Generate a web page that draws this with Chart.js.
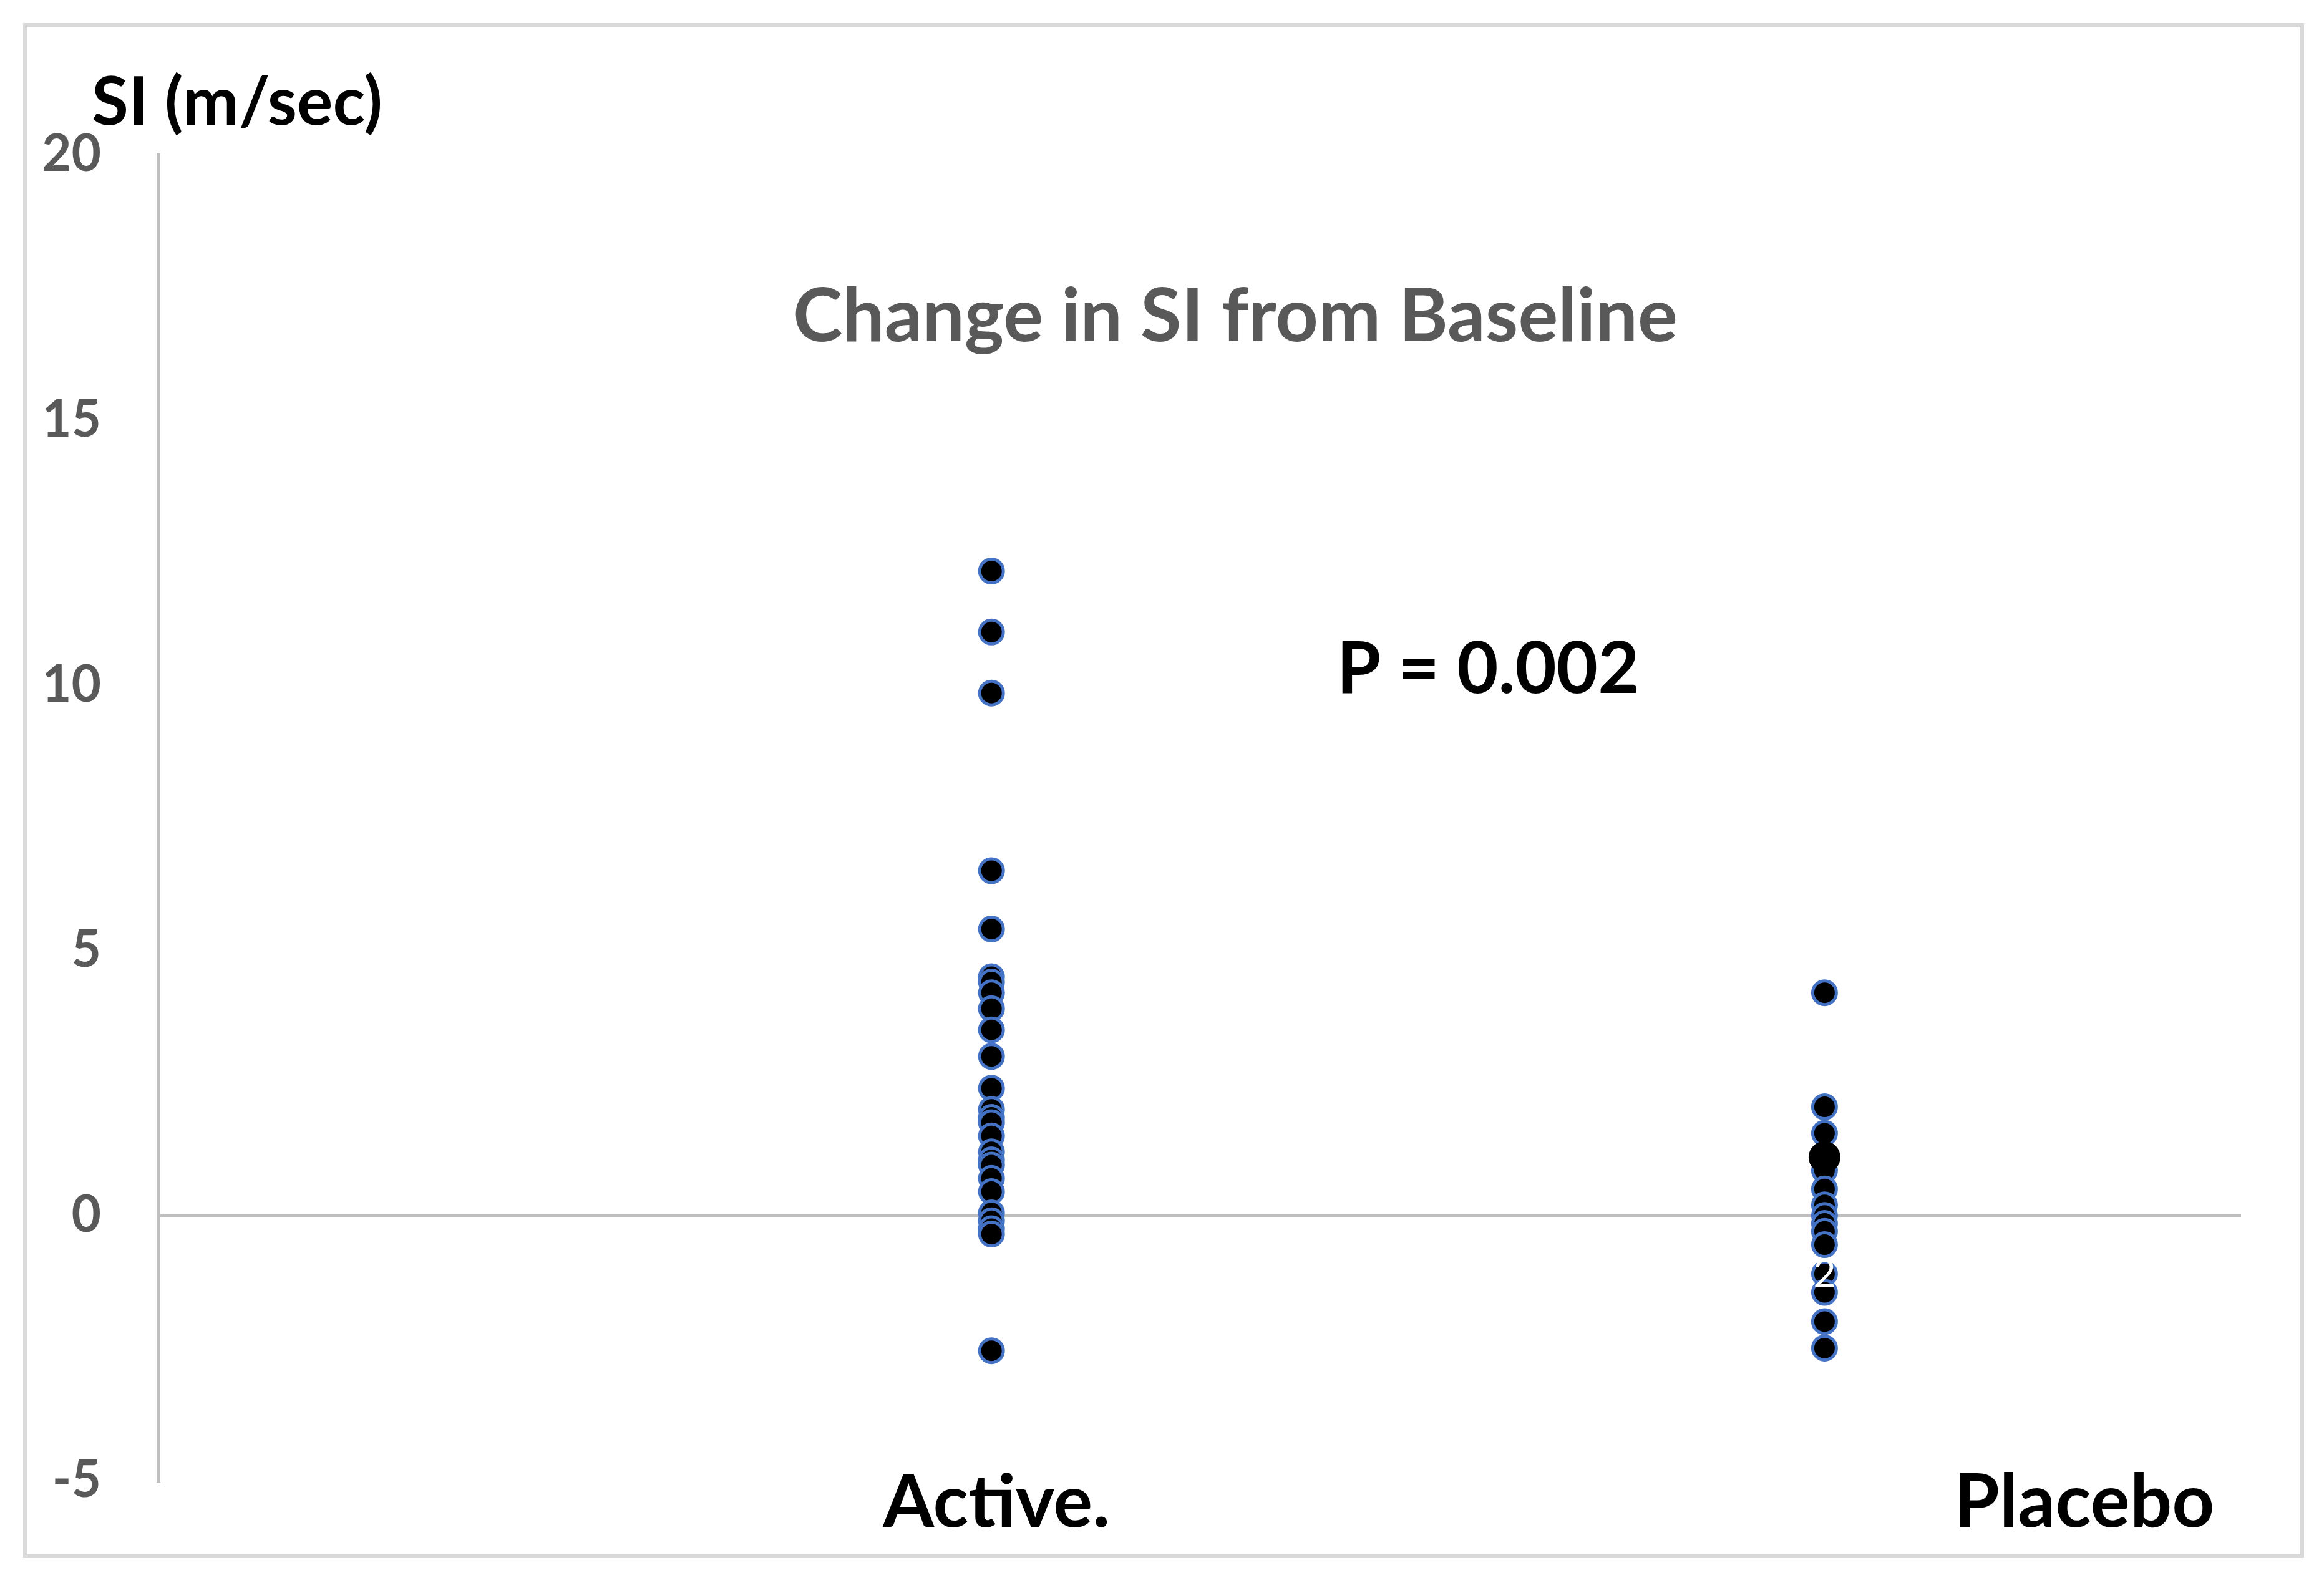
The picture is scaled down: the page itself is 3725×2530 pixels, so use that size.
<!DOCTYPE html>
<html>
<head>
<meta charset="utf-8">
<script src="https://cdn.jsdelivr.net/npm/chart.js@4/dist/chart.umd.min.js"></script>
<style>
  html, body { margin: 0; padding: 0; background: #ffffff; }
  canvas { display: block; }
</style>
</head>
<body>
<canvas id="c" width="3725" height="2530"></canvas>
<script>
// ---- data ----
const categories = ["Active.", "Placebo"];
const categoryX = [1, 2];
const activeValues = [12.15, 11.0, 9.85, 6.5, 5.4, 4.5, 4.4, 4.2, 3.9, 3.5, 3.0, 2.4, 2.0, 1.85, 1.75, 1.5, 1.2, 1.05, 0.95, 0.7, 0.45, 0.05, -0.1, -0.25, -0.35, -2.55];
const placeboValues = [4.2, 2.05, 1.55, 0.85, 0.5, 0.2, 0.0, -0.15, -0.3, -0.55, -1.1, -1.45, -2.0, -2.5, 1.1];
const placeboLabelIndex = 10;   // point carrying the "2" data label
const placeboBigIndex = 14;     // larger plain black point
const yTicks = [-5, 0, 5, 10, 15, 20];
const yAxisTitle = "SI (m/sec)";
const chartTitle = "Change in SI from Baseline";
const pText = "P = 0.002";

const FONT = "Lato, 'Open Sans', 'DejaVu Sans', sans-serif";

function fitText(ctx, text, weight, targetWidth) {
  ctx.font = weight + " 100px " + FONT;
  const w = ctx.measureText(text).width;
  return 100 * targetWidth / w;
}
function drawText(ctx, text, cx, cy, weight, targetWidth, color) {
  const size = fitText(ctx, text, weight, targetWidth);
  ctx.font = weight + " " + size + "px " + FONT;
  ctx.fillStyle = color;
  ctx.textAlign = "center";
  ctx.textBaseline = "middle";
  ctx.fillText(text, cx, cy);
}

const framePlugin = {
  id: "frame",
  beforeDraw(chart) {
    const ctx = chart.ctx;
    ctx.save();
    ctx.fillStyle = "#ffffff";
    ctx.fillRect(0, 0, chart.width, chart.height);
    ctx.strokeStyle = "#d9d9d9";
    ctx.lineWidth = 6;
    ctx.strokeRect(40, 40, 3650, 2455);
    ctx.restore();
  },
  afterDraw(chart) {
    const ctx = chart.ctx;
    const xs = chart.scales.x;
    ctx.save();
    drawText(ctx, yAxisTitle, 380, 165, "bold", 466, "#000000");
    drawText(ctx, chartTitle, 1980, 508, "bold", 1418, "#595959");
    drawText(ctx, pText, 2385, 1074, "bold", 485, "#000000");
    drawText(ctx, categories[0], xs.getPixelForValue(categoryX[0]) + 8, 2410, "bold", 364, "#000000");
    drawText(ctx, categories[1], xs.getPixelForValue(categoryX[1]) + 416, 2410, "bold", 418, "#000000");
    // data label "2" on placebo point
    const pt = chart.getDatasetMeta(1).data[placeboLabelIndex];
    ctx.font = "normal 62px " + FONT;
    ctx.fillStyle = "#ffffff";
    ctx.textAlign = "center";
    ctx.textBaseline = "middle";
    ctx.fillText("2", pt.x, pt.y + 2);
    ctx.restore();
  }
};

const activeData = activeValues.map(v => ({ x: categoryX[0], y: v }));
const placeboData = placeboValues.map(v => ({ x: categoryX[1], y: v }));

new Chart(document.getElementById("c"), {
  type: "scatter",
  data: {
    datasets: [
      {
        label: categories[0],
        data: activeData,
        pointRadius: 19,
        pointBorderWidth: 5,
        pointBackgroundColor: "#000000",
        pointBorderColor: "#4472C4",
        clip: false
      },
      {
        label: categories[1],
        data: placeboData,
        pointRadius: placeboData.map((d, i) => i === placeboBigIndex ? 23 : 19),
        pointBorderWidth: 5,
        pointBackgroundColor: "#000000",
        pointBorderColor: placeboData.map((d, i) => i === placeboBigIndex ? "#000000" : "#4472C4"),
        clip: false
      }
    ]
  },
  options: {
    responsive: false,
    animation: false,
    devicePixelRatio: 1,
    layout: { padding: { left: 0, top: 248, right: 133, bottom: 156 } },
    plugins: {
      legend: { display: false },
      tooltip: { enabled: false },
      title: { display: false }
    },
    scales: {
      x: {
        type: "linear",
        min: 0,
        max: 2.5,
        display: false
      },
      y: {
        type: "linear",
        min: -5,
        max: 20,
        afterFit(scale) { scale.width = 254; },
        afterBuildTicks(scale) { scale.ticks = yTicks.map(v => ({ value: v })); },
        ticks: {
          padding: 92,
          color: "#595959",
          font: { family: FONT, size: 82, weight: "bold" }
        },
        grid: {
          drawTicks: false,
          lineWidth: 6,
          color: ctx => (ctx.tick && ctx.tick.value === 0) ? "#bfbfbf" : "rgba(0,0,0,0)"
        },
        border: { display: true, color: "#bfbfbf", width: 6 }
      }
    }
  },
  plugins: [framePlugin]
});
</script>
</body>
</html>
